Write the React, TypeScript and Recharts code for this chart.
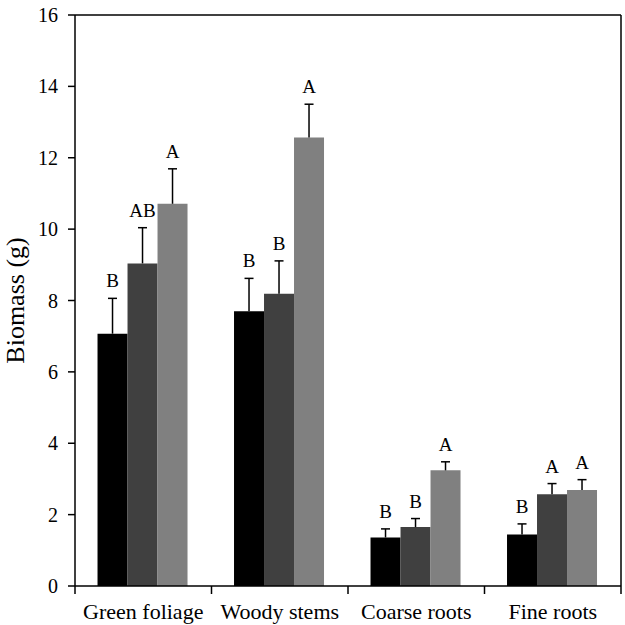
import { BarChart, Bar, XAxis, YAxis, LabelList, ReferenceLine } from 'recharts'

const categories = ['Green foliage', 'Woody stems', 'Coarse roots', 'Fine roots']
const seriesA = [7.07, 7.7, 1.36, 1.44]
const seriesB = [9.04, 8.19, 1.65, 2.57]
const seriesC = [10.71, 12.57, 3.24, 2.69]
const errA = [0.99, 0.92, 0.24, 0.3]
const errB = [1.0, 0.92, 0.24, 0.3]
const errC = [0.98, 0.93, 0.24, 0.29]
const lettersA = ['B', 'B', 'B', 'B']
const lettersB = ['AB', 'B', 'B', 'A']
const lettersC = ['A', 'A', 'A', 'A']
const yTicks = [0, 2, 4, 6, 8, 10, 12, 14, 16]

const FONT = '"Liberation Serif", "Times New Roman", serif'

const data = categories.map((name, i) => ({
  name,
  a: seriesA[i],
  b: seriesB[i],
  c: seriesC[i],
}))

// upward error bar + letter; pixel size of the error comes from the bar's own height
const errAndLetter = (letters: string[], vals: number[], errs: number[]) => (props: any) => {
  const vb = props.viewBox ?? props
  const { x, y, width, height } = vb
  const i = props.index
  const perUnit = height / vals[i]
  const top = y - errs[i] * perUnit
  const cx = x + width / 2
  return (
    <g>
      <line x1={cx} x2={cx} y1={y} y2={top} stroke="#000" strokeWidth={1.5} />
      <line x1={cx - 4.5} x2={cx + 4.5} y1={top} y2={top} stroke="#000" strokeWidth={1.5} />
      <text x={cx} y={top - 11} textAnchor="middle" fontFamily={FONT} fontSize={19} fill="#000">
        {letters[i]}
      </text>
    </g>
  )
}

// category label with tick marks on the band edges (not centres)
const CategoryTick = (props: any) => {
  const { x, y, payload, index } = props
  const half = payload.offset ?? 0
  const last = index === categories.length - 1
  return (
    <g>
      <line x1={x - half} x2={x - half} y1={y} y2={y + 8} stroke="#000" strokeWidth={1.5} />
      {last && <line x1={x + half} x2={x + half} y1={y} y2={y + 8} stroke="#000" strokeWidth={1.5} />}
      <text x={x} y={y + 17} dy="0.71em" textAnchor="middle" fontFamily={FONT} fontSize={22} fill="#000">
        {payload.value}
      </text>
    </g>
  )
}

export default function App() {
  return (
    <div style={{ position: 'absolute', left: 0, top: 0, background: '#fff' }}>
      <BarChart
        width={625}
        height={625}
        data={data}
        margin={{ top: 15, right: 3, left: 0, bottom: 0 }}
        barCategoryGap="16.5%"
        barGap={0}
      >
        <XAxis
          dataKey="name"
          height={39}
          axisLine={{ stroke: '#000', strokeWidth: 1.5 }}
          tickLine={false}
          tickSize={0}
          tickMargin={0}
          tick={<CategoryTick />}
          interval={0}
        />
        <YAxis
          domain={[0, 16]}
          ticks={yTicks}
          width={75}
          axisLine={{ stroke: '#000', strokeWidth: 1.5 }}
          tickLine={{ stroke: '#000', strokeWidth: 1.5 }}
          tickSize={7}
          tickMargin={10}
          tick={{ fill: '#000', fontSize: 20, fontFamily: FONT }}
          label={{
            value: 'Biomass (g)',
            angle: -90,
            position: 'insideLeft',
            offset: 15,
            style: { textAnchor: 'middle', fill: '#000', fontSize: 26, fontFamily: FONT },
          }}
        />
        <YAxis
          yAxisId="frame"
          orientation="right"
          domain={[0, 16]}
          width={1}
          tick={false}
          tickLine={false}
          axisLine={{ stroke: '#000', strokeWidth: 1.5 }}
        />
        <ReferenceLine y={16} stroke="#000" strokeWidth={1.5} />
        <Bar dataKey="a" fill="#000000" isAnimationActive={false}>
          <LabelList dataKey="a" content={errAndLetter(lettersA, seriesA, errA)} />
        </Bar>
        <Bar dataKey="b" fill="#404040" isAnimationActive={false}>
          <LabelList dataKey="b" content={errAndLetter(lettersB, seriesB, errB)} />
        </Bar>
        <Bar dataKey="c" fill="#808080" isAnimationActive={false}>
          <LabelList dataKey="c" content={errAndLetter(lettersC, seriesC, errC)} />
        </Bar>
      </BarChart>
    </div>
  )
}
